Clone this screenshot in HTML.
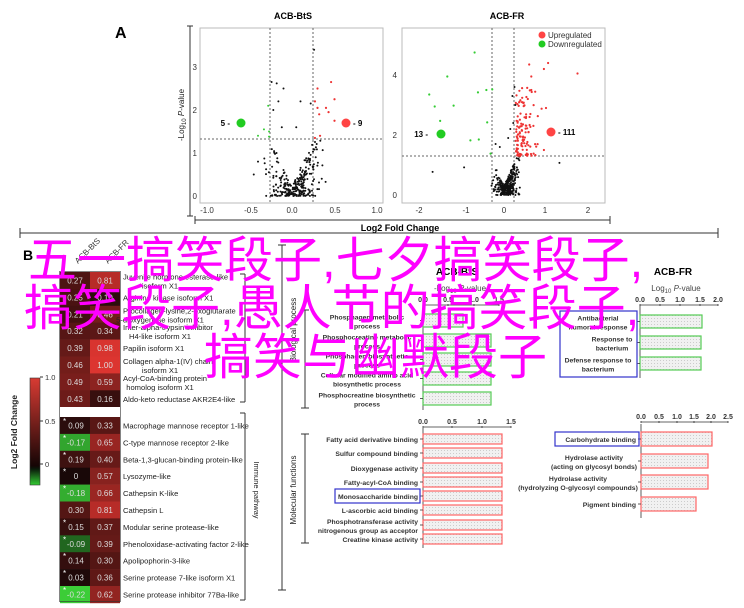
<!DOCTYPE html>
<html><head><meta charset="utf-8"><style>
html,body{margin:0;padding:0;background:#fff;}
#wrap{position:relative;width:744px;height:608px;overflow:hidden;font-family:"Liberation Sans",Arial,sans-serif;}
svg{position:absolute;left:0;top:0;}
.mg{position:absolute;color:#f0f;font-family:"Liberation Sans","Noto Sans CJK SC",sans-serif;font-size:49px;line-height:50px;white-space:nowrap;}
</style></head><body><div id="wrap">
<svg id="s" width="744" height="608" viewBox="0 0 744 608" font-family="Liberation Sans, Arial, sans-serif"></svg>
<div class="mg" style="left:28px;top:236px;">五一搞笑段子,七夕搞笑段子,</div>
<div class="mg" style="left:24px;top:284px;">搞笑段子,愚人节的搞笑段子,</div>
<div class="mg" style="left:204px;top:333px;">搞笑与幽默段子</div>
</div>
<script>
var o='';
function t(x,y,s,sz,anc,extra){o+='<text x="'+x+'" y="'+y+'" font-size="'+(sz||8)+'" text-anchor="'+(anc||'start')+'" '+(extra||'')+'>'+s+'</text>';}
function l(x1,y1,x2,y2,c,w,d){o+='<line x1="'+x1+'" y1="'+y1+'" x2="'+x2+'" y2="'+y2+'" stroke="'+(c||'#333')+'" stroke-width="'+(w||1)+'" '+(d?'stroke-dasharray="'+d+'"':'')+'/>';}
function r(x,y,w,h,f,s,sw){o+='<rect x="'+x+'" y="'+y+'" width="'+w+'" height="'+h+'" fill="'+f+'" '+(s?'stroke="'+s+'" stroke-width="'+(sw||1)+'"':'')+'/>';}
function c(x,y,rad,f){o+='<circle cx="'+x+'" cy="'+y+'" r="'+rad+'" fill="'+f+'"/>';}
var seed=7;function rnd(){seed=(seed*16807)%2147483647;return seed/2147483647;}
function gs(){return (rnd()+rnd()+rnd()-1.5);}
t(115,38,'A',16,'start','font-weight="bold"');
r(200,28,183,175,'none','#bbb',1);
t(293,19,'ACB-BtS',9,'middle','font-weight="bold"');
l(190,26,190,216,'#333',1);l(187,26,193,26);l(187,216,193,216);
[[0,196],[1,153],[2,110],[3,67]].forEach(function(a){t(197,a[1]+3,a[0],8,'end','fill="#333"');});
[['-1.0',207],['-0.5',251],['0.0',292],['0.5',335],['1.0',377]].forEach(function(a){t(a[1],213,a[0],8,'middle','fill="#333"');});
l(200,139,383,139,'#666',1,'2,2');l(270,28,270,203,'#666',1,'2,2');l(313,28,313,203,'#666',1,'2,2');
t(184,115,'-Log<tspan font-size="6" dy="2">10</tspan><tspan dy="-2"> </tspan><tspan font-style="italic">P</tspan>-value',8,'middle','transform="rotate(-90 184 115)" fill="#222"');
for(var i=0;i<280;i++){var x=gs()*0.28+0.04;var ymax=0.2+Math.abs(x)*4.5;var y=Math.pow(rnd(),1.4)*Math.min(ymax,2.6);var px=292+x*85,py=196-y*43;if(px<203||px>380)continue;if(Math.abs(x)>0.27&&y>1.3)continue;c(px.toFixed(1),py.toFixed(1),1,'#111');}
[[0.26,3.4],[-0.24,2.65],[-0.18,2.62],[-0.1,2.5],[0.1,2.2],[-0.16,2.2],[0.22,2.15],[-0.22,2.0],[-0.12,1.6],[0.05,1.6],[0.35,0.4],[-0.45,0.5],[-0.4,0.8]].forEach(function(a){c(292+a[0]*85,196-a[1]*43,1,'#111');});
[[-0.28,2.1],[-0.33,1.55],[-0.27,1.5],[-0.4,1.4],[-0.27,1.38]].forEach(function(a){c(292+a[0]*85,196-a[1]*43,1,'#3c3');});
[[0.3,2.5],[0.46,2.65],[0.5,2.25],[0.27,2.2],[0.3,2.05],[0.4,2.05],[0.43,1.95],[0.32,1.9],[0.33,1.4],[0.5,1.75],[0.27,1.35]].forEach(function(a){c(292+a[0]*85,196-a[1]*43,1.1,'#e33');});
c(241,123,4.5,'#2c2');t(230,126,'5 -',8,'end','font-weight="bold"');
c(346,123,4.5,'#f44');t(353,126,'- 9',8,'start','font-weight="bold"');
r(402,28,203,175,'none','#bbb',1);
t(507,19,'ACB-FR',9,'middle','font-weight="bold"');
[[0,195],[2,135],[4,75]].forEach(function(a){t(397,a[1]+3,a[0],8,'end','fill="#333"');});
[['-2',419],['-1',466],['0',504],['1',545],['2',588]].forEach(function(a){t(a[1],213,a[0],8,'middle','fill="#333"');});
l(402,156,605,156,'#666',1,'2,2');l(492,28,492,203,'#666',1,'2,2');l(514,28,514,203,'#666',1,'2,2');
for(var i=0;i<300;i++){var x=gs()*0.3+0.08;var ymax=0.3+Math.abs(x)*3.2;var y=Math.pow(rnd(),1.2)*Math.min(ymax,1.6);if(x>0.28&&y>1.3)continue;c((504+x*42).toFixed(1),(195-y*30).toFixed(1),1,'#111');}
[[0.25,3.6],[0.2,3.3],[0.27,3.0],[0.22,2.4],[0.15,2.2],[0.1,1.9],[-0.2,1.7],[-0.1,1.6]].forEach(function(a){c(504+a[0]*42,195-a[1]*30,1,'#111');});
for(var i=0;i<120;i++){var x=0.28+Math.abs(gs())*0.45;var y=1.3+Math.pow(rnd(),1.5)*2.3;c((504+x*42).toFixed(1),(195-y*30).toFixed(1),1.1,'#e33');}
[[0.6,4.35],[1.05,4.4],[0.95,4.2],[1.75,4.05],[1,2.9],[0.95,1.5],[0.65,3.95],[0.65,3.5]].forEach(function(a){c(504+a[0]*42,195-a[1]*30,1.1,'#e33');});
[[-0.7,4.75],[-1.35,3.95],[-1.78,3.35],[-1.65,2.95],[-1.2,2.98],[-0.62,3.42],[-0.42,3.5],[-0.28,3.52],[-1.52,2.47],[-0.4,2.42],[-0.8,1.82],[-0.6,1.85],[-0.32,1.38]].forEach(function(a){c(504+a[0]*42,195-a[1]*30,1.1,'#3c3');});
[[-1.7,0.77],[-0.95,0.92],[1.32,1.07]].forEach(function(a){c(504+a[0]*42,195-a[1]*30,1,'#111');});
c(441,134,4.5,'#2c2');t(428,137,'13 -',8,'end','font-weight="bold"');
c(551,132,4.5,'#f44');t(558,135,'- 111',8,'start','font-weight="bold"');
c(542,35,3.5,'#f44');t(548,38,'Upregulated',8,'start','fill="#333"');
c(542,44,3.5,'#2c2');t(548,47,'Downregulated',8,'start','fill="#333"');
l(195,220,610,220,'#333',1);l(195,216,195,224);l(610,216,610,224);
t(400,231,'Log2 Fold Change',9,'middle','font-weight="bold"');
l(20,233,718,233,'#333',1);l(20,228,20,238);l(718,228,718,238);
t(23,260,'B',14,'start','font-weight="bold"');
t(78,264,'ACB-BtS',8,'start','transform="rotate(-45 78 264)" fill="#333"');
t(108,264,'ACB-FR',8,'start','transform="rotate(-45 108 264)" fill="#333"');
function col(v){if(v>=0){var R=Math.round(25+195*v),G=Math.round(8+45*v),B=Math.round(8+40*v);return 'rgb('+R+','+G+','+B+')';}var a=Math.min(1,-v/0.22);return 'rgb('+Math.round(15+45*a)+','+Math.round(30+175*a)+','+Math.round(15+40*a)+')';}
var g1=[[0.27,0.81,['Juvenile hormone esterase-like','isoform X1']],[0.25,0.10,['Arginine kinase isoform X1']],[0.21,0.46,['Procollagen-lysine,2-oxoglutarate','5-dioxygenase isoform X1']],[0.32,0.34,['Inter-alpha-trypsin inhibitor','H4-like isoform X1']],[0.39,0.98,['Papilin isoform X1']],[0.46,1.00,['Collagen alpha-1(IV) chain','isoform X1']],[0.49,0.59,['Acyl-CoA-binding protein','homolog isoform X1']],[0.43,0.16,['Aldo-keto reductase AKR2E4-like']]];
var g2=[[0.09,0.33,'Macrophage mannose receptor 1-like',1],[-0.17,0.65,'C-type mannose receptor 2-like',1],[0.19,0.40,'Beta-1,3-glucan-binding protein-like',1],[0,0.57,'Lysozyme-like',1],[-0.18,0.66,'Cathepsin K-like',1],[0.30,0.81,'Cathepsin L',0],[0.15,0.37,'Modular serine protease-like',1],[-0.09,0.39,'Phenoloxidase-activating factor 2-like',1],[0.14,0.30,'Apolipophorin-3-like',1],[0.03,0.36,'Serine protease 7-like isoform X1',1],[-0.22,0.62,'Serine protease inhibitor 77Ba-like',1]];
var rh=16.9;
function fmt(v){return v==0?'0':v.toFixed(2);}
g1.forEach(function(d,i){var y=272+i*rh;r(60,y,30,rh+0.3,col(d[0]));r(90,y,30,rh+0.3,col(d[1]));var cy=y+rh/2+3;t(75,cy,fmt(d[0]),8,'middle','fill="#ddd"');t(105,cy,fmt(d[1]),8,'middle','fill="#ddd"');
 if(d[2].length==1)t(123,cy,d[2][0],7.6,'start','fill="#222"');else{t(123,cy-4,d[2][0],7.6,'start','fill="#222"');t(160,cy+5,d[2][1],7.6,'middle','fill="#222"');}});
r(60,407,60,10,'#fff');
g2.forEach(function(d,i){var y=417+i*rh;r(60,y,30,rh+0.3,col(d[0]));r(90,y,30,rh+0.3,col(d[1]));var cy=y+rh/2+3;t(76,cy,fmt(d[0]),8,'middle','fill="#ddd"');t(105,cy,fmt(d[1]),8,'middle','fill="#ddd"');if(d[3])t(63,y+7,'*',8,'start','fill="#fff"');t(123,cy,d[2],7.6,'start','fill="#222"');});
r(59.5,271.5,61,330,'none','#333',0.6);
o+='<defs><linearGradient id="cb" x1="0" y1="0" x2="0" y2="1"><stop offset="0" stop-color="#d83b33"/><stop offset="0.82" stop-color="#150505"/><stop offset="0.85" stop-color="#0a1a0a"/><stop offset="1" stop-color="#3c3"/></linearGradient></defs>';
r(30,378,10,107,'url(#cb)','#333',0.6);
[['1.0',380],['0.5',424],['0',467]].forEach(function(a){l(40,a[1]-3,43,a[1]-3);t(45,a[1],a[0],7.5,'start','fill="#333"');});
t(17,432,'Log2 Fold Change',8.5,'middle','transform="rotate(-90 17 432)" font-weight="bold" fill="#222"');
l(245,274,245,402);l(240,274,245,274);l(240,402,245,402);
l(245,413,245,600);l(240,413,245,413);l(240,600,245,600);
t(254,490,'Immune pathway',7.5,'middle','transform="rotate(90 254 490)" fill="#222"');
l(282,245,282,590);l(278,245,286,245);l(278,590,286,590);
t(296,330,'Biological process',8,'middle','transform="rotate(-90 296 330)" fill="#222"');
t(296,490,'Molecular functions',8,'middle','transform="rotate(-90 296 490)" fill="#222"');
l(305,310,305,408);l(301,310,309,310);l(301,408,309,408);
l(305,434,305,543);l(301,434,309,434);l(301,543,309,543);
o+='<defs><pattern id="dp" width="3" height="3" patternUnits="userSpaceOnUse"><rect width="3" height="3" fill="#f1f1f1"/><rect width="1" height="1" fill="#ccc"/></pattern></defs>';
function chart(ax,ty,ticks,ay1,ay2,bars,col,fs){l(ax,ay1,ax,ay2,'#333',0.8);l(ax,ty+3,ticks[ticks.length-1][1],ty+3,'#333',0.8);
 ticks.forEach(function(tk){t(tk[1],ty,tk[0],7,'middle','font-weight="bold" fill="#333"');l(tk[1],ty+2,tk[1],ty+4,'#333',0.8);});
 bars.forEach(function(b){r(ax,b[0],b[1]-ax,b[2],'url(#dp)',col,1.2);l(ax-3,b[0]+b[2]/2,ax,b[0]+b[2]/2,'#333',0.8);
  var lines=b[3],cy=b[0]+b[2]/2;if(lines.length==1)t(ax-5,cy+3,lines[0],fs,'end','font-weight="bold" fill="#333"');else{t(b[4]||ax-5,cy-1,lines[0],fs,b[4]?'middle':'end','font-weight="bold" fill="#333"');t(b[4]||ax-5,cy+8,lines[1],fs,b[4]?'middle':'end','font-weight="bold" fill="#333"');}});}
t(457,275,'ACB-BtS',10,'middle','font-weight="bold"');t(460,291,'-Log<tspan font-size="6" dy="2">10</tspan><tspan dy="-2" font-style="italic"> P</tspan>-value',8,'middle','fill="#444"');
chart(423,302,[['0.0',423],['0.5',448],['1.0',474],['1.5',499]],305,410,[[314,463,13,['Phosphagen metabolic','process'],367],[334,491,13,['Phosphocreatine metabolic','process'],367],[353,491,13,['Phosphagen biosynthetic','process'],367],[372,491,13,['Cellular modified amino acid','biosynthetic process'],367],[392,491,13,['Phosphocreatine biosynthetic','process'],367]],'#5c5',6.8);
t(673,275,'ACB-FR',10,'middle','font-weight="bold"');t(676,291,'Log<tspan font-size="6" dy="2">10</tspan><tspan dy="-2" font-style="italic"> P</tspan>-value',8,'middle','fill="#444"');
chart(640,302,[['0.0',640],['0.5',660],['1.0',680],['1.5',700],['2.0',718]],305,378,[[315,702,13,['Antibacterial','humoral response'],598],[336,701,13,['Response to','bacterium'],612],[357,701,13,['Defense response to','bacterium'],598]],'#5c5',6.8);
r(560,311,77,66,'none','#33c',1.2);
chart(423,424,[['0.0',423],['0.5',452],['1.0',482],['1.5',511]],428,548,[[434,502,10,['Fatty acid derivative binding']],[448,502,10,['Sulfur compound binding']],[463,502,10,['Dioxygenase activity']],[477,502,10,['Fatty-acyl-CoA binding']],[491,502,10,['Monosaccharide binding']],[505,502,10,['L-ascorbic acid binding']],[520,502,10,['Phosphotransferase activity','nitrogenous group as acceptor']],[534,502,10,['Creatine kinase activity']]],'#f66',6.8);
r(335,489,85,14,'none','#33c',1.2);
chart(641,419,[['0.0',641],['0.5',659],['1.0',677],['1.5',694],['2.0',711],['2.5',728]],424,518,[[432,712,14,['Carbohydrate binding']],[454,708,14,['Hydrolase activity','(acting on glycosyl bonds)'],594],[475,708,14,['Hydrolase activity','(hydrolyzing O-glycosyl compounds)'],578],[497,696,14,['Pigment binding']]],'#f66',6.8);
r(555,432,84,14,'none','#33c',1.2);
document.getElementById('s').innerHTML=o;
</script>
</body></html>
